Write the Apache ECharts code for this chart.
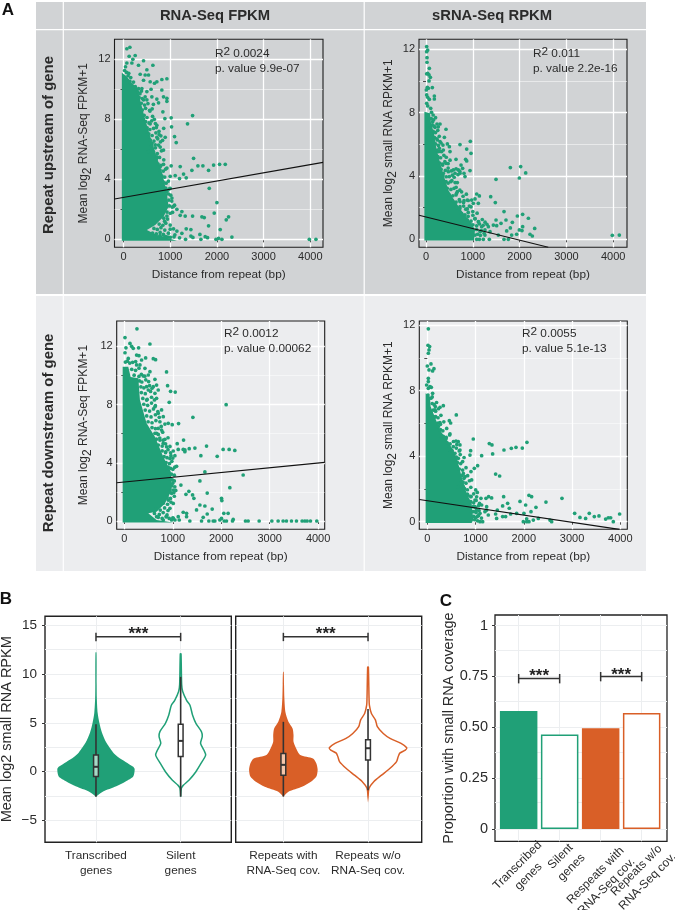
<!DOCTYPE html>
<html><head><meta charset="utf-8">
<style>html,body{margin:0;padding:0;background:#fff}#c{width:675px;height:910px}</style>
<script src="https://cdn.jsdelivr.net/npm/echarts@6/dist/echarts.min.js"></script>
</head><body><div id="c"></div>
<script>
// ---------- DATA ----------
const xTicksA=[0,1000,2000,3000,4000];
const pointsUpRna=[[71,12.7],[136,12.8],[121,12.2],[200,12],[250,12.25],[429,11.9],[629,11.6],[179,11.75],[71,11.75],[43,11.5],[321,11.6],[500,11.3],[357,11],[464,10.95],[571,10.5],[664,10.4],[821,10.65],[929,10.7],[714,10.5],[536,10.95],[429,10.6],[393,10.05],[500,9.85],[607,9.5],[714,9.35],[821,9.95],[857,9.5],[929,9.4],[929,9.2],[429,9.3],[843,8.5],[1021,8.1],[886,8.05],[1479,8.25],[1371,7.7],[1029,7.5],[1093,6.85],[1129,6.45],[1500,5.4],[1593,4.9],[1700,4.9],[1929,4.95],[2057,5],[2179,5],[1821,4.6],[1464,4.6],[1214,4.85],[1021,4.9],[929,4.75],[1107,4.25],[1286,4.35],[1343,4.1],[1200,4.05],[1000,4.2],[1836,3.4],[2000,2.45],[1943,1.75],[1729,1.45],[1679,1.5],[2250,1.5],[2200,1.3],[1821,.9],[2071,.65],[1479,1.55],[1250,1.85],[1214,1.6],[1143,2],[1321,1.55],[1343,.7],[1443,.65],[1143,.55],[1071,.7],[1000,.68],[1250,.4],[1443,.22],[1486,.13],[1636,.33],[1750,.18],[1800,.11],[1657,0],[1329,0],[1979,0],[2036,.07],[2107,0],[2321,.15],[3979,0],[4121,0],[1071,2.2],[1036,2.75],[929,3.2],[1000,3.4],[857,5],[786,4.85],[714,5.5],[857,5.95],[786,6.15],[714,6.8],[836,6.6],[893,6.8],[643,7.4],[714,7.6],[571,7.7],[500,7.15],[607,6.4],[536,5.85],[679,6.3],[860,7.4],[800,6.9],[760,7.2],[660,8],[560,8.6],[640,9],[500,9.3],[590,10],[750,9.1],[1100,.3],[1200,.1],[950,.15],[860,.1],[780,.25],[880,1.2],[930,1.55],[1050,1.8],[1000,.95]];
const fringeUpRna=[[24,11.25],[66,11.12],[112,11.06],[98,10.9],[155,10.78],[62,10.66],[137,10.52],[214,10.48],[176,10.28],[253,10.17],[322,10.04],[305,9.83],[352,9.71],[384,9.88],[333,9.46],[401,9.38],[463,9.5],[381,9.07],[452,8.95],[523,9.05],[402,8.62],[473,8.73],[566,8.55],[614,8.7],[441,8.27],[503,8.12],[622,8.2],[472,7.85],[545,7.76],[603,7.9],[683,7.72],[505,7.43],[563,7.32],[702,7.45],[542,7.03],[613,6.92],[694,7.1],[763,6.98],[573,6.62],[652,6.55],[733,6.7],[792,6.5],[604,6.22],[683,6.1],[751,6.28],[642,5.83],[724,5.72],[812,5.9],[703,5.38],[772,5.46],[862,5.3],[741,5.02],[803,4.93],[782,4.62],[853,4.55],[902,4.68],[823,4.22],[882,4.15],[852,3.82],[912,3.74],[963,3.88],[903,3.42],[972,3.35],[962,3.02],[1012,2.94],[972,2.62],[1033,2.55],[983,2.23],[1042,2.15],[1093,2.28],[932,1.82],[1003,1.74],[862,1.41],[943,1.35],[763,1.02],[842,.94],[905,1.08],[652,.73],[723,.66],[802,.78],[884,.62],[621,.42],[703,.37],[784,.46],[853,.33],[962,.41],[702,.16],[803,.12],[904,.19],[1003,.14],[1082,.17]];
const cloudUpRna=[[-36,11.1],[71,10.85],[179,10.4],[300,10.07],[357,9.29],[429,8.4],[536,7.2],[620,6.4],[720,5.4],[830,4.4],[929,3.07],[964,2.18],[857,1.51],[679,.96],[500,.62],[714,.29],[1143,-.09],[-36,-.09]];
const fitUpRna=[[-193,2.69],[4272,5.13]];

const pointsUpSrna=[[14,12.17],[36,11.95],[14,11.85],[21,11.47],[21,11.18],[71,10.8],[36,10.48],[14,10.45],[64,10.38],[93,10.23],[64,10],[28,9.6],[50,9.54],[135,9.58],[7,9.43],[14,9.12],[36,8.97],[178,9.05],[178,8.86],[71,8.84],[14,8.59],[36,8.42],[100,8.27],[142,7.43],[299,7.28],[192,7.07],[427,6.95],[100,7.1],[392,6.44],[242,6.27],[299,6.17],[157,6.17],[456,6.02],[726,5.98],[947,6.19],[869,5.7],[498,5.85],[513,5.54],[961,5.43],[285,5.75],[335,5.54],[263,5.54],[370,5.64],[641,5.05],[748,4.69],[847,5.05],[869,4.95],[940,4.34],[513,5],[427,4.8],[356,4.69],[584,4.38],[691,4.38],[620,4.17],[726,4.17],[812,4.17],[833,3.96],[669,3.58],[477,4.27],[370,4.17],[498,3.96],[427,3.64],[527,3.64],[598,3.22],[669,3.01],[1802,4.53],[2023,4.59],[2130,4.19],[1994,3.87],[1496,3.79],[1083,2.86],[1140,2.74],[1382,2.69],[1481,2.32],[1047,2.55],[976,2.48],[883,2.48],[812,2.44],[726,2.38],[1118,2.27],[1011,2.27],[926,2.1],[726,2.06],[1667,1.75],[1952,1.47],[2065,1.58],[2187,1.33],[1709,1.22],[1603,1.01],[1845,1.07],[1496,1.22],[2322,.69],[2065,.8],[1802,.72],[1724,.53],[1994,.59],[2051,.55],[2222,.32],[2272,.21],[1830,.27],[1937,.32],[1759,0],[1667,0],[1353,0],[1225,0],[1140,0],[1083,0],[3981,.25],[4131,.27],[1439,.9],[1332,.8],[1510,.86],[1260,.59],[1368,.48],[1545,.27],[1189,.8],[1154,.48],[1047,.27],[1260,.27],[1050,1.3],[1120,1.1],[1000,1.75],[850,1.9],[760,3],[640,2.8],[900,1.45]];
const fringeUpSrna=[[118,8.02],[152,7.85],[112,7.62],[163,7.55],[204,7.68],[133,7.22],[172,7.15],[234,7.28],[262,7.1],[153,6.82],[203,6.74],[252,6.88],[183,6.42],[232,6.35],[283,6.5],[203,6.02],[264,5.93],[322,6.08],[362,5.95],[233,5.62],[302,5.55],[253,5.22],[312,5.15],[382,5.3],[433,5.18],[292,4.82],[352,4.75],[403,4.9],[472,4.78],[322,4.42],[413,4.35],[473,4.5],[542,4.32],[643,4.45],[722,4.3],[782,4.48],[362,4.02],[433,3.95],[562,4.05],[602,3.92],[683,4.08],[402,3.62],[473,3.55],[553,3.7],[622,3.58],[452,3.22],[532,3.15],[643,3.28],[723,3.1],[492,2.82],[572,2.75],[652,2.9],[792,2.72],[862,2.85],[572,2.42],[643,2.35],[712,2.5],[802,2.32],[902,2.45],[652,2.02],[723,1.95],[803,2.1],[882,1.92],[962,2.05],[762,1.62],[832,1.55],[902,1.7],[1002,1.52],[1092,1.65],[882,1.22],[962,1.15],[1042,1.3],[1122,1.12],[1202,1.25],[1262,1.08],[1002,.92],[1082,.85],[1142,.98],[1222,.88],[1302,.95],[1082,.62],[1182,.55],[1102,.32],[1162,.25],[1242,.38]];
const cloudUpSrna=[[-35,8.06],[85,7.96],[107,7.33],[171,6.69],[214,5.85],[285,5.01],[385,3.96],[477,3.12],[620,2.38],[798,1.64],[976,1.01],[1047,.59],[1025,-.08],[-35,-.08]];
const fitUpSrna=[[-150,1.52],[2612,-.505]];

const pointsDownRna=[[261,13.2],[14,12.6],[117,12.2],[151,12],[529,12.16],[295,11.9],[34,11.9],[185,11.86],[14,11.56],[82,11.17],[254,11.4],[302,11.36],[598,11.15],[646,11.08],[440,11.2],[357,11.06],[234,10.95],[323,10.72],[426,10.49],[529,10.26],[254,10.72],[872,10.24],[392,9.96],[495,10.03],[632,9.73],[893,9.3],[955,8.91],[1051,8.86],[666,9.34],[460,9.23],[598,9.23],[700,9],[495,9],[632,8.77],[460,8.31],[927,8.15],[2102,7.99],[666,8.43],[769,7.63],[632,7.85],[700,7.4],[1415,7.12],[804,7.17],[735,6.82],[907,6.71],[989,6.62],[1120,6.69],[838,6.66],[769,6.25],[700,6.36],[666,6.02],[735,5.56],[838,5.61],[1223,5.56],[1092,5.31],[804,5.34],[1697,5.15],[1457,5.01],[1340,4.97],[1250,4.88],[1216,4.92],[1113,4.92],[1250,4.76],[1010,4.81],[955,4.69],[2040,4.92],[2164,4.92],[2281,4.85],[1580,4.49],[1917,4.44],[1044,4.49],[873,5.1],[941,4.3],[852,4.7],[1079,3.76],[907,3.7],[1663,3.37],[2453,3.16],[1560,2.75],[1168,2.47],[2178,2.29],[1333,2.04],[1711,1.92],[1272,1.83],[1409,1.79],[1436,1.56],[2006,1.56],[2013,1.4],[1560,1.1],[1663,1.03],[1491,.76],[1814,.82],[1711,.48],[2054,.53],[2143,.53],[1216,.6],[1285,.53],[1285,.3],[1113,.3],[1134,.07],[1010,.18],[1628,.25],[1353,0],[1594,0],[1745,0],[1834,0],[1869,0],[2006,.18],[1972,.07],[2061,0],[2109,0],[2247,.11],[2233,0],[2501,0],[2556,0],[2783,0],[3045,0],[3175,0],[3278,0],[3347,0],[3450,0],[3553,0],[3670,0],[3725,0],[3773,0],[3842,0],[3973,0],[1010,2.13],[976,1.9],[907,1.44],[1010,1.21],[942,.87],[873,.3],[976,.07],[1045,.07],[804,.07],[928,.18],[666,.3],[950,2.9],[1000,2.6],[880,3.4]];
const fringeDownRna=[[22,10.92],[63,10.98],[112,10.85],[172,10.9],[153,10.42],[232,10.35],[303,10.5],[203,10.02],[302,9.93],[352,10.08],[423,9.95],[312,9.62],[362,9.55],[443,9.7],[502,9.58],[342,9.22],[403,9.15],[522,9.3],[572,9.12],[352,8.82],[433,8.75],[542,8.9],[382,8.42],[472,8.35],[562,8.5],[622,8.32],[402,8.02],[482,7.95],[562,8.1],[642,7.92],[432,7.62],[522,7.55],[602,7.7],[692,7.52],[462,7.22],[552,7.15],[642,7.3],[722,7.12],[492,6.82],[572,6.75],[652,6.9],[572,6.42],[642,6.35],[762,6.5],[632,6.02],[702,5.95],[792,6.1],[662,5.62],[732,5.7],[802,5.55],[902,5.72],[702,5.22],[782,5.15],[852,5.3],[942,5.12],[782,4.82],[852,4.75],[902,4.9],[822,4.42],[882,4.35],[962,4.5],[1002,4.32],[862,4.02],[932,3.95],[982,4.1],[952,3.62],[1002,3.55],[1042,3.7],[972,3.22],[1032,3.15],[992,2.82],[1032,2.75],[982,2.42],[1042,2.35],[942,2.02],[1022,1.95],[1062,2.1],[882,1.62],[952,1.55],[1032,1.7],[802,1.22],[892,1.15],[962,1.3],[652,.82],[742,.75],[832,.9],[902,.72],[622,.52],[722,.45],[802,.58],[882,.42],[702,.25],[782,.18],[862,.3],[1002,.22]];
const cloudDownRna=[[-34,10.6],[82,10.6],[131,9.9],[289,9.8],[323,8.31],[460,6.71],[632,5.79],[804,4.42],[960,3.39],[980,2.13],[838,1.21],[666,.64],[495,.53],[666,.07],[1010,-.11],[-34,-.11]];
const fitDownRna=[[-157,2.63],[4136,4.03]];

const pointsDownSrna=[[21,11.78],[14,10.78],[48,10.7],[35,10.49],[21,10.29],[0,9.51],[76,9.64],[138,9.35],[35,9.27],[110,9.21],[21,8.76],[21,8.56],[-14,8.35],[55,8.25],[83,8.21],[21,8.15],[110,7.84],[14,7.74],[332,7.09],[263,6.99],[166,7.03],[76,7.54],[159,6.83],[601,6.52],[456,6.17],[484,6.03],[159,6.4],[263,6.05],[228,5.81],[470,5.36],[953,5.05],[387,5.05],[297,5.2],[594,4.93],[642,4.89],[1285,4.77],[1340,4.69],[2065,4.85],[1969,4.5],[1838,4.54],[1741,4.48],[1589,4.38],[898,4.34],[884,4.07],[1126,4.03],[1354,4.14],[677,4.69],[539,4.58],[470,4.38],[677,4.38],[573,4.18],[642,3.87],[732,3.67],[1043,3.42],[974,3.26],[905,3.06],[836,2.81],[746,2.95],[760,2.65],[919,2.55],[1416,2.91],[1499,2.79],[712,2.44],[642,2.14],[746,2.14],[829,1.69],[1002,1.94],[1036,1.79],[905,1.53],[988,1.32],[1112,1.43],[1216,1.43],[1271,1.53],[1333,1.45],[1582,1.53],[2107,1.61],[2162,1.53],[2459,1.2],[2791,1.43],[1665,1.12],[1921,1.24],[2038,1.02],[1561,.96],[1699,.82],[2252,.88],[2149,.61],[1126,1.02],[1230,.92],[988,.92],[1023,.71],[1092,.51],[1195,.61],[1264,.41],[1416,.47],[1451,.71],[1561,.31],[1623,.31],[1727,.47],[1851,.51],[2003,.51],[3054,.51],[3164,.26],[3281,.2],[3357,.51],[3461,.31],[3558,.35],[3696,.16],[3751,.24],[3800,.24],[3855,0],[3986,.47],[1990,0],[2059,0],[2107,0],[2059,.18],[2197,.1],[2301,.2],[2542,.1],[2577,0],[1092,0],[1147,0],[1036,.31],[1437,.2],[1230,.71],[919,.61]];
const fringeDownSrna=[[102,7.62],[102,7.22],[142,7.15],[192,7.28],[122,6.82],[172,6.75],[232,6.9],[172,6.42],[222,6.35],[282,6.5],[222,6.02],[272,5.95],[342,6.1],[272,5.62],[322,5.55],[402,5.7],[332,5.22],[392,5.15],[462,5.3],[412,4.82],[472,4.75],[542,4.9],[612,4.72],[452,4.42],[512,4.35],[602,4.5],[662,4.32],[542,4.02],[602,3.95],[682,4.1],[762,3.92],[622,3.62],[692,3.55],[662,3.22],[732,3.15],[802,3.3],[722,2.82],[782,2.75],[742,2.42],[802,2.35],[872,2.5],[772,2.02],[832,1.95],[902,2.1],[842,1.62],[902,1.55],[962,1.7],[1022,1.52],[902,1.22],[962,1.15],[1012,1.3],[1082,1.12],[952,.92],[1002,.85],[1062,.98],[962,.62],[1012,.55],[1072,.68],[962,.32],[1002,.25],[1062,.38],[1122,.22],[982,.12],[1042,.05]];
const cloudDownSrna=[[-35,7.84],[55,7.64],[69,7.03],[180,6.21],[263,5.6],[401,4.99],[539,4.38],[622,3.77],[712,2.75],[815,1.73],[919,1.12],[953,.1],[919,-.08],[-35,-.08]];
const fitDownSrna=[[-166,1.36],[3979,-.468]];

// violin profiles: [log2 value, half width in category units]
const violinTranscribed=[[-2.55,0],[-2.05,.08],[-1.5,.24],[-1,.35],[-.5,.44],[.25,.457],[.5,.44],[1,.35],[1.5,.26],[2,.2],[3,.12],[4,.07],[5,.04],[6,.02],[7.5,.01],[8.9,.008],[12.2,.006]];
const violinSilent=[[-2.55,0],[-1.7,.008],[-1.4,.03],[-.85,.1],[0,.18],[.85,.24],[1.7,.295],[2.2,.275],[2.9,.235],[3.6,.255],[4.1,.245],[4.95,.18],[5.8,.14],[6.8,.11],[7.3,.07],[8.2,.024],[8.9,.012],[12.05,.004]];
const violinRepeatsWith=[[-2.55,0],[-2.05,.06],[-1.55,.22],[-1,.33],[-.5,.39],[.2,.405],[.85,.39],[1.35,.35],[1.7,.2],[2.4,.15],[3.05,.12],[3.75,.12],[4.4,.11],[5.1,.06],[6.1,.024],[7.5,.012],[8.9,.008],[10.2,.004]];
const violinRepeatsWithout=[[-2.55,0],[-1.7,.012],[-1,.07],[-.35,.16],[.35,.26],[1,.335],[1.5,.355],[1.9,.375],[2.2,.44],[2.45,.457],[2.9,.39],[3.4,.26],[3.9,.18],[4.6,.11],[5.3,.087],[5.95,.04],[6.8,.016],[7.5,.012],[10.7,.004]];
// box stats: [whisker low, q1, median, q3, whisker high]
const boxTranscribed=[-2.55,-.5,.5,1.7,4.85];
const boxSilent=[-2.55,1.55,3.15,4.85,9.7];
const boxRepeatsWith=[-2.55,-.37,.7,1.85,5.1];
const boxRepeatsWithout=[-1.9,1.2,2.4,3.27,6.4];
const labelsB=[['Transcribed\ngenes','Silent\ngenes'],['Repeats with\nRNA-Seq cov.','Repeats w/o\nRNA-Seq cov.']];
const ticksB=[-5,0,5,10,15];
const gridB=[-5,-2.5,0,2.5,5,7.5,10,12.5,15];

const coverageValues=[.58,.465,.495,.57];
const coverageLabels=['Transcribed\ngenes','Silent\ngenes','Respeats with\nRNA-Seq cov.','Repeats w/o\nRNA-Seq cov.'];
const ticksC=[0,.25,.5,.75,1];
const tickNamesC={0:'0',.25:'0.25',.5:'0.50',.75:'0.75',1:'1'};
const gridC=[0,.125,.25,.375,.5,.625,.75,.875,1];

// ---------- STYLE ----------
const GREEN='#20a077',ORANGE='#d95f27',FONT='"Liberation Sans",Arial,sans-serif',INK='#2b2b2b';
const grids=[],xAxes=[],yAxes=[],series=[],graphic=[];
function rect(x,y,w,h,fill){graphic.push({type:'rect',z:-10,silent:true,shape:{x,y,width:w,height:h},style:{fill}});}
function text(x,y,t,o){graphic.push(Object.assign({type:'text',x,y,z:20,silent:true,rotation:o.rot||0,style:Object.assign({text:t,font:o.font,fill:o.fill||INK,align:o.align||'center',verticalAlign:'middle',lineHeight:o.lh},o.rich?{rich:o.rich}:{})}));}
rect(36,2,610,292,'#d1d3d5');rect(36,296,610,275,'#ecedef');
rect(36,29,610,1.3,'#fff');rect(62.7,2,1.2,569,'#fff');rect(363.6,2,1.2,569,'#fff');
text(215,16,'RNA-Seq FPKM',{font:'bold 14.8px '+FONT});
text(492,16,'sRNA-Seq RPKM',{font:'bold 14.8px '+FONT});
text(49,145,'Repeat upstream of gene',{font:'bold 14.9px '+FONT,rot:Math.PI/2});
text(49,433,'Repeat downstream of gene',{font:'bold 14.9px '+FONT,rot:Math.PI/2});
text(8,10,'A',{font:'bold 17px '+FONT,fill:'#111'});
text(6,599,'B',{font:'bold 17px '+FONT,fill:'#111'});
text(446,601,'C',{font:'bold 17px '+FONT,fill:'#111'});

function polygonSeries(idx,pts,color,z){
  return {type:'custom',xAxisIndex:idx,yAxisIndex:idx,z,silent:true,clip:true,data:[[0,0]],
    renderItem:(p,api)=>({type:'polygon',shape:{points:pts.map(d=>api.coord(d))},style:{fill:color}})};
}
function scatterPanel(o){
  const i=grids.length;
  grids.push({left:o.box[0],top:o.box[1],width:o.box[2],height:o.box[3],show:true,borderColor:'#1c1c1c',borderWidth:1.1,backgroundColor:'transparent',containLabel:false,outerBoundsMode:'none'});
  xAxes.push({type:'value',gridIndex:i,min:o.x[0],max:o.x[1],name:'Distance from repeat (bp)',nameLocation:'middle',nameGap:21,
    nameTextStyle:{fontSize:11.8,color:INK,fontFamily:'Liberation Sans'},
    axisLine:{show:false},axisTick:{show:true,length:3,customValues:xTicksA,lineStyle:{color:'#222',width:.8}},
    axisLabel:{customValues:xTicksA,fontSize:11,color:INK,margin:4,fontFamily:'Liberation Sans',formatter:v=>String(v)},
    splitLine:{show:true,lineStyle:{color:'#fff',width:1.3}}});
  yAxes.push({type:'value',gridIndex:i,min:o.y[0],max:o.y[1],name:'Mean log{s|2} '+o.yname,nameLocation:'middle',nameGap:o.gap,
    nameTextStyle:{fontSize:12,color:INK,fontFamily:'Liberation Sans',rich:{s:{fontSize:12,color:INK,fontFamily:'Liberation Sans',verticalAlign:'bottom',lineHeight:8,padding:[0,0,-4,0]}}},
    axisLine:{show:false},axisTick:{show:true,length:3,customValues:[0,2,4,6,8,10,12],lineStyle:{color:'#222',width:.8}},
    axisLabel:{customValues:[0,4,8,12],fontSize:11,color:INK,margin:4,fontFamily:'Liberation Sans',formatter:v=>String(v)},
    splitLine:{show:true,lineStyle:{color:'#fff',width:.5}}});
  series.push({type:'line',xAxisIndex:i,yAxisIndex:i,data:o.fit,showSymbol:false,z:6,silent:true,clip:true,lineStyle:{color:'#111',width:1.1},
    markLine:{silent:true,symbol:'none',z:1,animation:false,label:{show:false},lineStyle:{color:'#fff',width:1.4,type:'solid'},data:[0,4,8,12].map(v=>({yAxis:v}))}});
  series.push(polygonSeries(i,o.cloud,GREEN,3));
  series.push({type:'scatter',xAxisIndex:i,yAxisIndex:i,data:o.points.concat(o.fringe),symbolSize:3.7,z:4,silent:true,itemStyle:{color:GREEN,opacity:1},clip:false});
  text(o.note[0],o.note[1],'R{u|2} '+o.r2,{font:'11.8px '+FONT,align:'left',rich:{u:{fontSize:11.8,fontFamily:'Liberation Sans',verticalAlign:'top',padding:[0,0,5,0],fill:INK}}});
  text(o.note[0],o.note[1]+14.5,'p. value '+o.p,{font:'11.8px '+FONT,align:'left'});
}
scatterPanel({box:[114.5,39.3,208.5,208],x:[-193,4272],y:[-.53,13.33],yname:'RNA-Seq FPKM+1',gap:25,fit:fitUpRna,cloud:cloudUpRna,points:pointsUpRna,fringe:fringeUpRna,note:[215,54],r2:'0.0024',p:'9.9e-07'});
scatterPanel({box:[419,39.3,208,208],x:[-150,4295],y:[-.505,12.63],yname:'small RNA RPKM+1',gap:15,fit:fitUpSrna,cloud:cloudUpSrna,points:pointsUpSrna,fringe:fringeUpSrna,note:[533,54],r2:'0.011',p:'2.2e-16'});
scatterPanel({box:[116.7,321,208,208.3],x:[-157,4136],y:[-.57,13.74],yname:'RNA-Seq FPKM+1',gap:27,fit:fitDownRna,cloud:cloudDownRna,points:pointsDownRna,fringe:fringeDownRna,note:[224,334],r2:'0.0012',p:'0.00062'});
scatterPanel({box:[419.3,321,208,208.3],x:[-166,4145],y:[-.465,12.26],yname:'small RNA RPKM+1',gap:12,fit:fitDownSrna,cloud:cloudDownSrna,points:pointsDownSrna,fringe:fringeDownSrna,note:[522,334],r2:'0.0055',p:'5.1e-13'});

// ---------- PANEL B ----------
function faintLines(list,axis){return list.map(v=>({[axis]:v}));}
function violinSeries(idx,cat,profile,box,color,filled,boxFill){
  series.push({type:'custom',xAxisIndex:idx,yAxisIndex:idx,z:4,silent:true,data:[[cat,0]],renderItem:(p,api)=>{
    const pts=[];profile.forEach(d=>pts.push(api.coord([cat-d[1],d[0]])));
    profile.slice().reverse().forEach(d=>pts.push(api.coord([cat+d[1],d[0]])));
    const a=y=>api.coord([cat,y]),hw=2.4;
    const cx=a(0)[0];
    const seg=(y1,y2,w,c)=>({type:'line',shape:{x1:cx,y1,x2:cx,y2},style:{stroke:c||'#333',lineWidth:w}});
    return {type:'group',children:[
      {type:'polygon',shape:{points:pts,smooth:.25},style:filled?{fill:color}:{fill:'#fff',stroke:color,lineWidth:1.5}},
      seg(a(box[0])[1],a(box[4])[1],1.6),
      {type:'rect',shape:{x:cx-hw,y:a(box[3])[1],width:hw*2,height:a(box[1])[1]-a(box[3])[1]},style:{fill:boxFill,stroke:'#333',lineWidth:1.5}},
      {type:'line',shape:{x1:cx-hw,y1:a(box[2])[1],x2:cx+hw,y2:a(box[2])[1]},style:{stroke:'#333',lineWidth:2}}
    ]};
  }});
}
function bracketSeries(idx,x1,x2,yBar,yLow,yHigh,yStar){
  series.push({type:'custom',xAxisIndex:idx,yAxisIndex:idx,z:7,silent:true,data:[[x1,yBar]],renderItem:(p,api)=>{
    const A=api.coord([x1,yBar]),B=api.coord([x2,yBar]),lo=api.coord([x1,yLow])[1],hi=api.coord([x1,yHigh])[1],S=api.coord([(x1+x2)/2,yStar]);
    const st={stroke:'#333',lineWidth:1.5};
    return {type:'group',children:[
      {type:'line',shape:{x1:A[0],y1:A[1],x2:B[0],y2:B[1]},style:st},
      {type:'line',shape:{x1:A[0],y1:lo,x2:A[0],y2:hi},style:st},
      {type:'line',shape:{x1:B[0],y1:lo,x2:B[0],y2:hi},style:st},
      {type:'text',style:{text:'***',x:S[0],y:S[1],align:'center',verticalAlign:'middle',font:'bold 17px '+FONT,fill:'#222'}}
    ]};
  }});
}
[[45,186.3,.398,2.598],[235.7,186,.437,2.634]].forEach((b,k)=>{
  const i=grids.length;
  grids.push({left:b[0],top:616.3,width:b[1],height:226,show:true,borderColor:'#222',borderWidth:1.4,backgroundColor:'transparent',outerBoundsMode:'none'});
  xAxes.push({type:'value',gridIndex:i,min:b[2],max:b[3],axisLine:{show:false},axisTick:{show:false,customValues:[1,2]},
    axisLabel:{customValues:[1,2],margin:6,fontSize:11.8,lineHeight:15,color:INK,fontFamily:'Liberation Sans',formatter:v=>labelsB[k][v-1]},
    splitLine:{show:true,lineStyle:{color:'#eceef0',width:1}}});
  yAxes.push({type:'value',gridIndex:i,min:-7.22,max:15.89,
    name:k?'':'Mean log2 small RNA RPKM',nameLocation:'middle',nameGap:31,nameTextStyle:{fontSize:14.5,color:INK,fontFamily:'Liberation Sans'},
    axisLine:{show:false},axisTick:{show:k==0,length:3,customValues:ticksB,lineStyle:{color:'#333'}},
    axisLabel:{show:k==0,customValues:ticksB,fontSize:13.5,margin:8,color:INK,fontFamily:'Liberation Sans',formatter:v=>String(v).replace('-','\u2212')},
    splitLine:{show:false}});
  series.push({type:'line',xAxisIndex:i,yAxisIndex:i,data:[],z:1,silent:true,
    markLine:{silent:true,symbol:'none',z:1,animation:false,label:{show:false},lineStyle:{color:'#eceef0',width:1.1,type:'solid'},data:faintLines(gridB,'yAxis')}});
});
violinSeries(4,1,violinTranscribed,boxTranscribed,GREEN,true,'#a5dac6');
violinSeries(4,2,violinSilent,boxSilent,GREEN,false,'#fff');
violinSeries(5,1,violinRepeatsWith,boxRepeatsWith,ORANGE,true,'#f4c5a9');
violinSeries(5,2,violinRepeatsWithout,boxRepeatsWithout,ORANGE,false,'#fff');
bracketSeries(4,1,2,13.8,13.35,14.2,14.03);
bracketSeries(5,1,2,13.8,13.35,14.2,14.03);

// ---------- PANEL C ----------
const ci=grids.length;
grids.push({left:495,top:615,width:172,height:226.3,show:true,borderColor:'#222',borderWidth:1.3,backgroundColor:'transparent',outerBoundsMode:'none'});
xAxes.push({type:'value',gridIndex:ci,min:.423,max:4.618,axisLine:{show:false},axisTick:{show:false,customValues:[1,2,3,4]},axisLabel:{show:false,customValues:[1,2,3,4]},splitLine:{show:true,lineStyle:{color:'#eceef0',width:1}}});
yAxes.push({type:'value',gridIndex:ci,min:-.06,max:1.052,name:'Proportion with small RNA coverage',nameLocation:'middle',nameGap:34,nameTextStyle:{fontSize:14.4,color:INK,fontFamily:'Liberation Sans'},
  axisLine:{show:false},axisTick:{show:true,length:3,customValues:ticksC,lineStyle:{color:'#333'}},
  axisLabel:{customValues:ticksC,fontSize:14.5,margin:7,color:INK,fontFamily:'Liberation Sans',formatter:v=>tickNamesC[v]},splitLine:{show:false}});
series.push({type:'bar',xAxisIndex:ci,yAxisIndex:ci,barWidth:37.5,z:4,silent:true,
  data:coverageValues.map((v,k)=>({value:[k+1,v],itemStyle:{color:k%2?'#fff':(k<2?GREEN:ORANGE),borderColor:k<2?GREEN:ORANGE,borderWidth:1.5}})),
  markLine:{silent:true,symbol:'none',z:1,animation:false,label:{show:false},lineStyle:{color:'#eceef0',width:1.1,type:'solid'},data:faintLines(gridC,'yAxis')}});
bracketSeries(ci,1,2,.74,.716,.762,.753);
bracketSeries(ci,3,4,.75,.726,.772,.757);
[[523,871],[566,862],[601,881],[642,876]].forEach((p,k)=>text(p[0],p[1],coverageLabels[k],{font:'12px '+FONT,rot:Math.PI/4,lh:15.5}));

echarts.init(document.getElementById('c'),null,{renderer:'canvas'}).setOption({
  animation:false,backgroundColor:'#fff',textStyle:{fontFamily:'Liberation Sans'},
  grid:grids,xAxis:xAxes,yAxis:yAxes,series,graphic:{elements:graphic}
});
</script></body></html>
